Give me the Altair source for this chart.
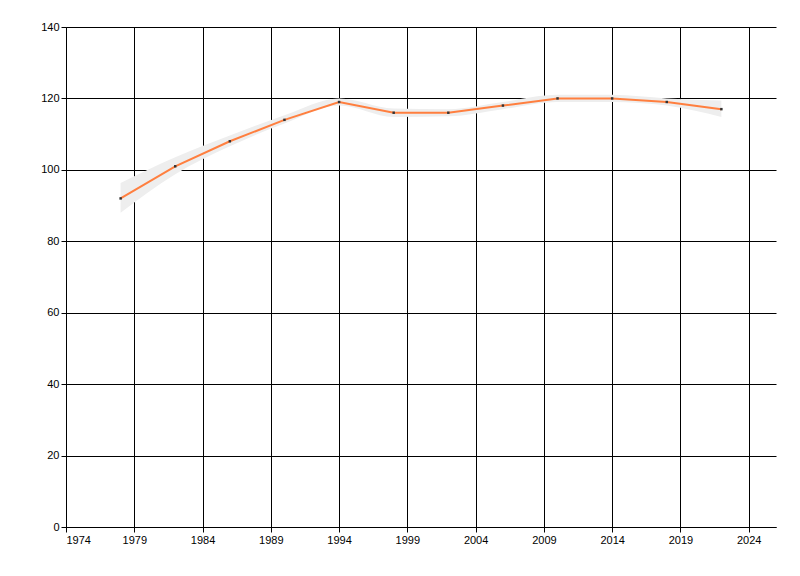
# %% Imports

import altair as alt
import pandas as pd

# %% Data

years = [1978, 1982, 1986, 1990, 1994, 1998, 2002, 2006, 2010, 2014, 2018, 2022]
values = [92, 101, 108, 114, 119, 116, 116, 118, 120, 120, 119, 117]
band_low = [88.0, 98.8, 106.6, 113.0, 118.0, 114.8, 115.0, 117.0, 119.0, 119.0, 118.0, 114.8]
band_high = [96.3, 103.5, 109.6, 115.3, 120.0, 117.2, 117.0, 119.0, 121.0, 121.0, 120.0, 119.4]

x_ticks = list(range(1974, 2025, 5))
y_ticks = list(range(0, 141, 20))

df = pd.DataFrame(
    {"year": years, "value": values, "low": band_low, "high": band_high}
)

# %% Chart

x = alt.X(
    "year:Q",
    scale=alt.Scale(domain=[1974, 2026], nice=False, zero=False),
    axis=alt.Axis(values=x_ticks, format="d", title=None),
)
y = alt.Y(
    "value:Q",
    scale=alt.Scale(domain=[0, 140], nice=False),
    axis=alt.Axis(values=y_ticks, title=None),
)

base = alt.Chart(df)

band = base.mark_area(interpolate="monotone", color="#eeeeee").encode(
    x=x, y=alt.Y("low:Q", scale=alt.Scale(domain=[0, 140], nice=False)), y2="high:Q"
)

line = base.mark_line(color="#ff7f3f", strokeWidth=2).encode(x=x, y=y)

points = base.mark_square(size=6, color="#333333", opacity=1).encode(x=x, y=y)

chart = (
    alt.layer(band, line, points)
    .properties(
        width=710,
        height=500,
        autosize="none",
        padding={"left": 58, "top": 19, "right": 14, "bottom": 41},
    )
    .configure_view(stroke=None)
    .configure_axis(
        grid=True,
        gridColor="#000000",
        gridWidth=1,
        gridOpacity=1,
        domainColor="#000000",
        domainWidth=1,
        tickColor="#000000",
        tickSize=5,
        labelColor="#000000",
        labelFont="Liberation Sans",
        labelFontSize=11,
    )
    .configure_axisX(labelPadding=2)
    .configure_axisY(labelPadding=2)
)

chart.save("out.html", embed_options={"renderer": "svg", "actions": False})
